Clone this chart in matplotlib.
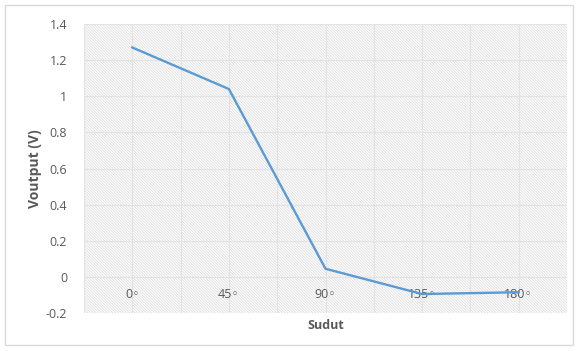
import numpy as np
import matplotlib.pyplot as plt
from matplotlib.patches import Rectangle

plt.rcParams['hatch.color'] = '#dedede'
plt.rcParams['hatch.linewidth'] = 0.6
plt.rcParams['font.family'] = ['Open Sans', 'DejaVu Sans']

# Data
categories = ['0◦', '45◦', '90◦', '135◦', '180◦']
voutput = [1.27, 1.04, 0.045, -0.095, -0.085]
yticks = [-0.2, 0, 0.2, 0.4, 0.6, 0.8, 1, 1.2, 1.4]
ytick_labels = ['-0.2', '0', '0.2', '0.4', '0.6', '0.8', '1', '1.2', '1.4']

fig = plt.figure(figsize=(5.79, 3.51), dpi=100)
ax = fig.add_axes([84/579, 1 - 313/351, (567 - 84)/579, (313 - 24)/351])

# outer chart border
fig.patches.append(Rectangle((5/579, 6/351), 568/579, 340/351, transform=fig.transFigure,
                             facecolor='none', edgecolor='#d9d9d9', linewidth=1))

# hatched plot area
ax.add_patch(Rectangle((0, 0), 1, 1, transform=ax.transAxes, facecolor='white',
                       edgecolor='#dedede', linewidth=0, hatch='\\' * 12, zorder=0))

x = np.arange(len(categories))
ax.set_xlim(-0.5, len(categories) - 0.5)
ax.set_ylim(-0.2, 1.4)

# gridlines at categories and between them
for gx in np.arange(-0.5, len(categories), 0.5):
    ax.axvline(gx, color='#e3e3e3', linewidth=0.8, zorder=1)
for gy in yticks:
    ax.axhline(gy, color='#e3e3e3', linewidth=0.8, zorder=1)

ax.plot(x, voutput, color='#5b9bd5', linewidth=1.7, zorder=3)

# category labels sit next to the zero line
for xi, lab in zip(x, categories):
    ax.annotate(lab, (xi, 0), xytext=(0, -13), textcoords='offset points',
                ha='center', va='center', fontsize=9, color='#595959', zorder=2)

ax.set_xticks([])
ax.set_yticks(yticks)
ax.set_yticklabels(ytick_labels)
ax.tick_params(axis='y', length=0, pad=12, labelsize=9, labelcolor='#595959')
for s in ax.spines.values():
    s.set_visible(False)

ax.set_ylabel('Voutput (V)', fontsize=10, fontweight='bold', color='#595959', labelpad=3)
ax.set_xlabel('Sudut', fontsize=9, fontweight='bold', color='#595959', labelpad=4)

fig.savefig('out.png', dpi=100)
